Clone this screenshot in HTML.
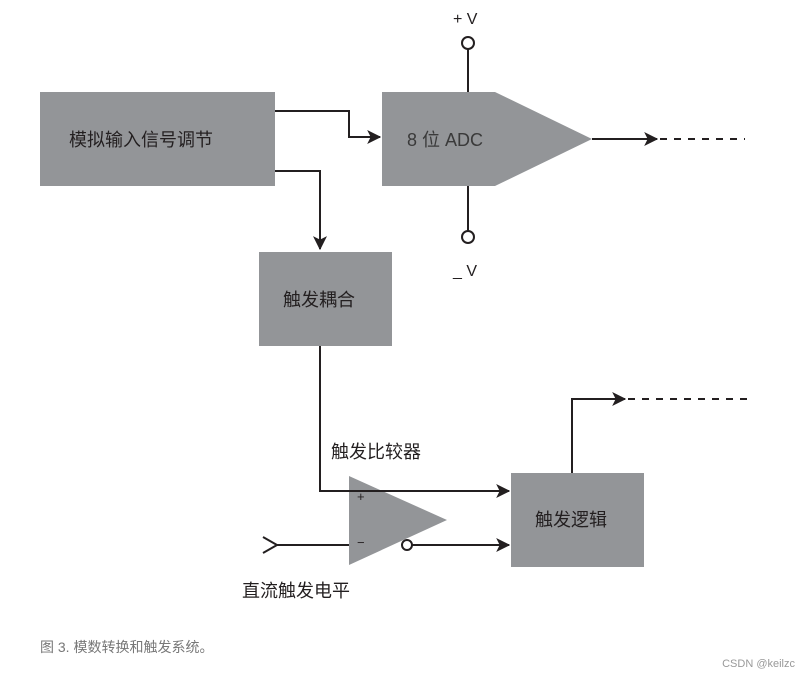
<!DOCTYPE html>
<html><head><meta charset="utf-8"><style>
body{margin:0;background:#fff;}
svg{display:block;font-family:"Liberation Sans","Noto Sans CJK SC",sans-serif;}
</style></head><body>
<svg width="810" height="677" viewBox="0 0 810 677" xmlns="http://www.w3.org/2000/svg">
<defs><marker id="a" viewBox="0 0 12 12" refX="11" refY="6" markerWidth="14" markerHeight="14" markerUnits="userSpaceOnUse" orient="auto"><path d="M0,0 L12,6 L0,12 L3,6 Z" fill="#231f20"/></marker></defs>
<g fill="#939598">
<rect x="40" y="92" width="235" height="94"/>
<polygon points="382,92 495,92 592,139 495,186 382,186"/>
<rect x="259" y="252" width="133" height="94"/>
<rect x="511" y="473" width="133" height="94"/>
<polygon points="349,476 447,520 349,565"/>
</g>
<g stroke="#231f20" stroke-width="2" fill="none">
<polyline points="275,111 349,111 349,137 380,137" marker-end="url(#a)"/>
<polyline points="275,171 320,171 320,249" marker-end="url(#a)"/>
<line x1="592" y1="139" x2="657" y2="139" marker-end="url(#a)"/>
<line x1="660" y1="139" x2="745" y2="139" stroke-dasharray="7,7"/>
<line x1="468" y1="49" x2="468" y2="92"/>
<circle cx="468" cy="43" r="6" fill="#fff"/>
<line x1="468" y1="186" x2="468" y2="231"/>
<circle cx="468" cy="237" r="6" fill="#fff"/>
<polyline points="320,346 320,491 509,491" marker-end="url(#a)"/>
<polyline points="263,537 277,545 263,553"/>
<line x1="277" y1="545" x2="349" y2="545"/>
<line x1="412" y1="545" x2="509" y2="545" marker-end="url(#a)"/>
<circle cx="407" cy="545" r="5" fill="#fff"/>
<polyline points="572,473 572,399 625,399" marker-end="url(#a)"/>
<line x1="628" y1="399" x2="750" y2="399" stroke-dasharray="7,7"/>
</g>
<g fill="#231f20" font-size="18">
<text x="69" y="146">模拟输入信号调节</text>
<text x="407" y="146" fill="#3a3a3a">8 位 ADC</text>
<text x="283" y="306">触发耦合</text>
<text x="535" y="526">触发逻辑</text>
<text x="331" y="458">触发比较器</text>
<text x="242" y="597">直流触发电平</text>
<text x="453" y="24" font-size="16">+ V</text>
<text x="453" y="276" font-size="16">_ V</text>
<text x="357" y="501" font-size="13">+</text>
<text x="357" y="547" font-size="13">−</text>
</g>
<text x="40" y="652" font-size="14" fill="#777">图 3. 模数转换和触发系统。</text>
<text x="795" y="667" font-size="11" fill="#999" text-anchor="end">CSDN @keilzc</text>
</svg>
</body></html>
